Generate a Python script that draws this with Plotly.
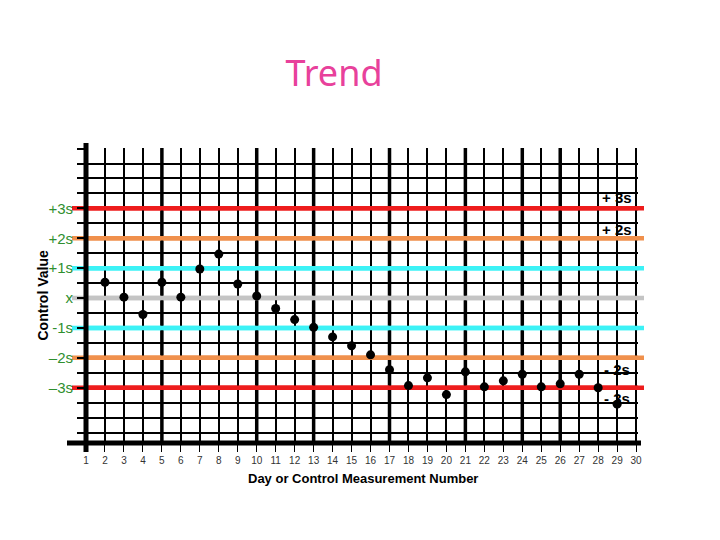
"""Levey-Jennings style control chart showing a downward trend."""

import plotly.graph_objects as go

# measurement days and control values (in SD units from the mean)
days = list(range(2, 30))
values = [0.53, 0.03, -0.55, 0.53, 0.03, 0.97, 1.47, 0.47, 0.07, -0.35, -0.72,
          -0.98, -1.3, -1.6, -1.9, -2.4, -2.93, -2.67, -3.23, -2.47, -2.97,
          -2.77, -2.55, -2.97, -2.87, -2.55, -3.0, -3.55]

all_days = list(range(1, 31))
thick_days = [5, 10, 13, 17, 21, 24, 26]

sd_levels = [3, 2, 1, 0, -1, -2, -3]
sd_labels = ["+3s", "+2s", "+1s", "x", "-1s", "\u20132s", "\u20133s"]
sd_colors = ["#ee1c1c", "#f0904c", "#3cf2f6", "#c4c4c4", "#3cf2f6", "#f0904c", "#ee1c1c"]

right_labels = ["+ 3s", "+ 2s", "- 2s", "- 3s"]
right_label_y = [3.36, 2.3, -2.4, -3.37]

grid_levels = [i * 0.5 for i in range(-9, 11)]
grid_text = [sd_labels[sd_levels.index(v)] if v in sd_levels else "" for v in grid_levels]

x_range = [1, 30.1]
y_range = [-4.85, 5.02]

# the page body adds an 8px margin, so the figure is drawn 8px smaller
OFF = 8
W, H = 720 - OFF, 540 - OFF
L, T = 86 - OFF, 148 - OFF
pw, ph = 552, 295
R, B = W - L - pw, H - T - ph

fig = go.Figure()

# heavier vertical rules
for d in thick_days:
    fig.add_shape(type="line", xref="x", yref="paper", x0=d, x1=d, y0=0, y1=1,
                  line=dict(color="black", width=3.5), layer="between")

# SD reference lines: the part sticking out of the plot, then the part over the grid
for level, color in zip(sd_levels, sd_colors):
    fig.add_shape(type="line", xref="paper", yref="y", x0=-14 / pw, x1=1 + 6 / pw,
                  y0=level, y1=level, line=dict(color=color, width=4.5), layer="below")
    fig.add_shape(type="line", xref="x", yref="y", x0=x_range[0], x1=x_range[1],
                  y0=level, y1=level, line=dict(color=color, width=4.5), layer="between")

fig.add_trace(go.Scatter(x=days, y=values, mode="markers",
                         marker=dict(color="black", size=9), showlegend=False))

# thick axis lines
fig.add_shape(type="line", xref="paper", yref="paper", x0=-19 / pw, x1=1 + 3 / pw, y0=0, y1=0,
              line=dict(color="black", width=5), layer="above")
fig.add_shape(type="line", xref="paper", yref="paper", x0=0, x1=0, y0=-9 / ph, y1=1 + 5 / ph,
              line=dict(color="black", width=5), layer="above")

for text, yv in zip(right_labels, right_label_y):
    fig.add_annotation(x=29.0, y=yv, xref="x", yref="y", text="<b>" + text + "</b>",
                       xanchor="center", yanchor="middle", showarrow=False,
                       font=dict(family="Liberation Sans", size=15, color="black"))

fig.add_annotation(x=-44 / pw, y=0.5, xref="paper", yref="paper", text="<b>Control Value</b>",
                   textangle=-90, xanchor="center", yanchor="middle", showarrow=False,
                   font=dict(family="Liberation Sans", size=14, color="black"))
fig.add_annotation(x=0.502, y=-35 / ph, xref="paper", yref="paper",
                   text="<b>Day or Control Measurement Number</b>", showarrow=False,
                   xanchor="center", yanchor="middle",
                   font=dict(family="Liberation Sans", size=13, color="black"))

fig.update_layout(
    width=W, height=H,
    margin=dict(l=L, r=R, t=T, b=B, autoexpand=False),
    paper_bgcolor="white", plot_bgcolor="white",
    title=dict(text="Trend", x=(334 - OFF) / W, xanchor="center",
               y=1 - (73 - OFF) / H, yanchor="middle",
               font=dict(family="Noto Sans", size=36, color="#e8419b")),
    xaxis=dict(range=x_range, tickvals=all_days, ticks="outside", ticklen=8, tickwidth=1,
               tickcolor="black", showgrid=True, gridcolor="black", gridwidth=2,
               zeroline=False, showline=False,
               tickfont=dict(family="Liberation Sans", size=10, color="#333333")),
    yaxis=dict(range=y_range, tickvals=grid_levels, ticktext=grid_text, ticks="outside",
               ticklen=8, tickwidth=2, tickcolor="black", showgrid=True, gridcolor="black",
               gridwidth=2, zeroline=False, showline=False, ticklabelstandoff=1,
               tickfont=dict(family="Liberation Sans", size=15, color="#2f8f2f")),
)

fig.write_html("out.html")
